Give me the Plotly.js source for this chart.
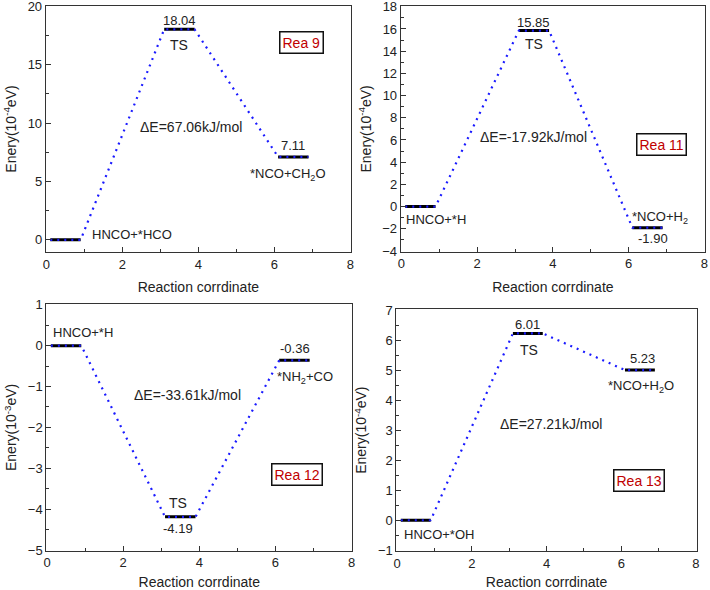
<!DOCTYPE html>
<html>
<head>
<meta charset="utf-8">
<script src="https://cdn.plot.ly/plotly-3.0.1.min.js"></script>
<style>html,body{margin:0;padding:0;background:#fff;}#chart{width:710px;height:590px;}</style>
</head>
<body>
<div id="chart"></div>
<script>
// ---- data ----
const levelStart = [0.1, 3.1, 6.1];
const levelEnd = [0.9, 3.9, 6.9];

const rea9Energy = [0, 18.04, 7.11];
const rea9Labels = ['', '18.04', '7.11'];
const rea9Species = ['HNCO+*HCO', 'TS', '*NCO+CH<sub>2</sub>O'];
const rea9DeltaE = 'ΔE=67.06kJ/mol';

const rea11Energy = [0, 15.85, -1.90];
const rea11Labels = ['', '15.85', '-1.90'];
const rea11Species = ['HNCO+*H', 'TS', '*NCO+H<sub>2</sub>'];
const rea11DeltaE = 'ΔE=-17.92kJ/mol';

const rea12Energy = [0, -4.19, -0.36];
const rea12Labels = ['', '-4.19', '-0.36'];
const rea12Species = ['HNCO+*H', 'TS', '*NH<sub>2</sub>+CO'];
const rea12DeltaE = 'ΔE=-33.61kJ/mol';

const rea13Energy = [0, 6.22, 5.00];
const rea13Labels = ['', '6.01', '5.23'];
const rea13Species = ['HNCO+*OH', 'TS', '*NCO+H<sub>2</sub>O'];
const rea13DeltaE = 'ΔE=27.21kJ/mol';

const panelNames = ['Rea 9', 'Rea 11', 'Rea 12', 'Rea 13'];
const yTitles = ['Enery(10<sup>-4</sup>eV)', 'Enery(10<sup>-4</sup>eV)', 'Enery(10<sup>-3</sup>eV)', 'Enery(10<sup>-4</sup>eV)'];
const xTitle = 'Reaction corrdinate';

// ---- build ----
const FONT = 'Liberation Sans, Arial, sans-serif';
const panels = [
  {E: rea9Energy, L: rea9Labels, S: rea9Species, D: rea9DeltaE},
  {E: rea11Energy, L: rea11Labels, S: rea11Species, D: rea11DeltaE},
  {E: rea12Energy, L: rea12Labels, S: rea12Species, D: rea12DeltaE},
  {E: rea13Energy, L: rea13Labels, S: rea13Species, D: rea13DeltaE}
];

const textPos = [
  {vTS:[3.5,18.8], vP:[6.5,8.1], sR:[1.15,0.45,'left'], sTS:[3.5,16.7], sP:[6.37,5.6], d:[3.8,9.7], box:[6.72,16.9]},
  {vTS:[3.49,16.6], vP:[6.64,-2.9], sR:[0.9,-1.16,'center'], sTS:[3.49,14.65], sP:[6.84,-1.0], d:[3.5,6.3], box:[6.86,5.55]},
  {vTS:[3.45,-4.48], vP:[6.51,-0.08], sR:[0.95,0.33,'center'], sTS:[3.45,-3.84], sP:[6.79,-0.77], d:[3.69,-1.22], box:[6.56,-3.15]},
  {vTS:[3.5,6.52], vP:[6.57,5.37], sR:[1.11,-0.47,'center'], sTS:[3.54,5.67], sP:[6.53,4.45], d:[4.12,3.22], box:[6.48,1.32]}
];

const domains = [
  {x:[0.0644,0.4944], y:[0.5724,0.9903], r:[-1,20], t0:0, dt:5, m:2.5},
  {x:[0.5644,0.9930], y:[0.5734,0.9898], r:[-4,18], t0:-4, dt:2, m:1},
  {x:[0.0652,0.4962], y:[0.0666,0.4847], r:[-5,1], t0:-5, dt:1, m:0.5},
  {x:[0.5582,0.9813], y:[0.0661,0.4758], r:[-1,7], t0:-1, dt:1, m:0.5}
];

const traces = [];
const layout = {
  width: 710, height: 590,
  margin: {l:0, r:0, t:0, b:0},
  paper_bgcolor: '#fff', plot_bgcolor: '#fff',
  showlegend: false,
  font: {family: FONT, size: 13, color: '#222'},
  annotations: []
};

panels.forEach((p, i) => {
  const n = i + 1;
  const xa = 'x' + (n === 1 ? '' : n);
  const ya = 'y' + (n === 1 ? '' : n);
  const lx = [], ly = [];
  p.E.forEach((e, k) => { lx.push(levelStart[k], levelEnd[k], null); ly.push(e, e, null); });
  traces.push({x: lx, y: ly, xaxis: xa, yaxis: ya, mode: 'lines', line: {color: '#000', width: 3}, hoverinfo: 'skip'});
  const cx = [], cy = [];
  p.E.forEach((e, k) => { cx.push(levelStart[k], levelEnd[k]); cy.push(e, e); });
  traces.push({x: cx, y: cy, xaxis: xa, yaxis: ya, mode: 'lines', line: {color: '#1a1aff', width: 2.2, dash: '2px,5px'}, hoverinfo: 'skip'});

  const d = domains[i];
  const eps = (d.r[1] - d.r[0]) * 0.003;
  const axisCommon = {
    showline: true, linecolor: '#333', linewidth: 1, mirror: true,
    ticks: 'inside', ticklen: 5, tickwidth: 1, tickcolor: '#333',
    showgrid: false, zeroline: false, ticklabeloverflow: 'allow',
    tickfont: {family: FONT, size: 13, color: '#222'}
  };
  layout['xaxis' + (n === 1 ? '' : n)] = Object.assign({}, axisCommon, {
    domain: d.x, anchor: ya, range: [-0.02, 8.02], tickmode: 'linear', tick0: 0, dtick: 2,
    minor: {dtick: 1, tick0: 0, ticks: 'inside', ticklen: 3, tickcolor: '#333'},
    title: {text: xTitle, font: {family: FONT, size: 14, color: '#222'}, standoff: 11}
  });
  layout['yaxis' + (n === 1 ? '' : n)] = Object.assign({}, axisCommon, {
    domain: d.y, anchor: xa, range: [d.r[0] - eps, d.r[1] + eps], tickmode: 'linear', tick0: d.t0, dtick: d.dt,
    minor: {dtick: d.m, tick0: 0, ticks: 'inside', ticklen: 3, tickcolor: '#333'},
    title: {text: yTitles[i], font: {family: FONT, size: 14, color: '#222'}, standoff: 7}
  });

  const tp = textPos[i];
  const A = (x, y, text, extra) => layout.annotations.push(Object.assign({
    xref: xa, yref: ya, x: x, y: y, text: text, showarrow: false,
    xanchor: 'center', yanchor: 'middle', font: {family: FONT, size: 13, color: '#222'}
  }, extra || {}));
  A(tp.vTS[0], tp.vTS[1], p.L[1]);
  A(tp.vP[0], tp.vP[1], p.L[2]);
  A(tp.sR[0], tp.sR[1], p.S[0], {xanchor: tp.sR[2]});
  A(tp.sTS[0], tp.sTS[1], p.S[1], {font: {family: FONT, size: 14, color: '#222'}});
  A(tp.sP[0], tp.sP[1], p.S[2]);
  A(tp.d[0], tp.d[1], p.D, {font: {family: FONT, size: 14, color: '#222'}});
  A(tp.box[0], tp.box[1], panelNames[i], {
    font: {family: FONT, size: 14, color: '#c00000'},
    bordercolor: '#111', borderwidth: 1.5, borderpad: 2, bgcolor: '#fff'
  });
});

Plotly.newPlot('chart', traces, layout, {staticPlot: true, displayModeBar: false});
</script>
</body>
</html>
